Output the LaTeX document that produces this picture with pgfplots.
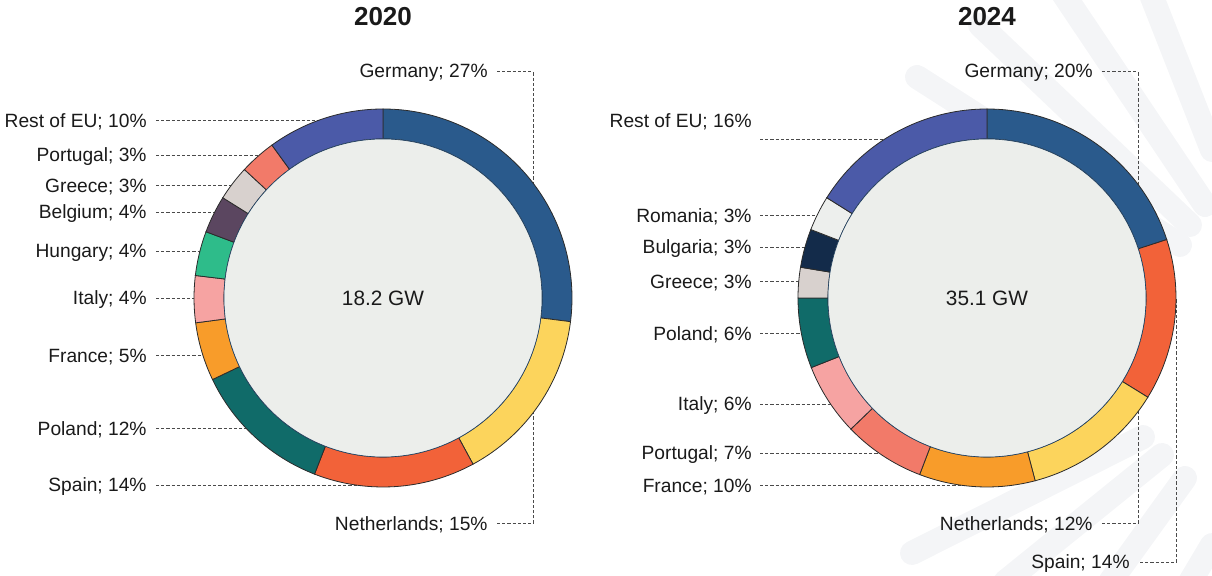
\documentclass[border=0pt]{standalone}
\usepackage{fontspec}
\setmainfont{Liberation Sans}
\usepackage{pgfplots}
\usepackage{pgfplotstable}
\pgfplotsset{compat=1.18}

\definecolor{cDE}{HTML}{2A5A8C}
\definecolor{cNL}{HTML}{FCD45C}
\definecolor{cES}{HTML}{F26239}
\definecolor{cPL}{HTML}{106B69}
\definecolor{cFR}{HTML}{F89C2A}
\definecolor{cIT}{HTML}{F6A3A2}
\definecolor{cHU}{HTML}{2EBC8A}
\definecolor{cBE}{HTML}{5B4660}
\definecolor{cGR}{HTML}{D8D1CE}
\definecolor{cPT}{HTML}{F27A69}
\definecolor{cRE}{HTML}{4B5AA8}
\definecolor{cBG}{HTML}{132B4A}
\definecolor{cRO}{HTML}{EDEFED}
\definecolor{inner}{HTML}{ECEEEB}
\definecolor{segline}{HTML}{2B2B2B}
\definecolor{lead}{HTML}{4A4A4A}
\definecolor{txt}{HTML}{1A1A1A}
\definecolor{wm}{HTML}{F4F5F7}

% shares (%) clockwise from the top, as read off the ring
\pgfplotstableread{
name pct col
Germany 27.0 cDE
Netherlands 15.1 cNL
Spain 13.8 cES
Poland 12.0 cPL
France 5.0 cFR
Italy 4.0 cIT
Hungary 3.8 cHU
Belgium 3.2 cBE
Greece 3.0 cGR
Portugal 3.1 cPT
Rest 10.0 cRE
}\shareA

\pgfplotstableread{
name pct col
Germany 20.0 cDE
Spain 13.8 cES
Netherlands 12.1 cNL
France 9.9 cFR
Portugal 7.0 cPT
Italy 6.2 cIT
Poland 6.0 cPL
Greece 2.6 cGR
Bulgaria 3.3 cBG
Romania 3.0 cRO
Rest 16.1 cRE
}\shareB

% ring of table #1 round the axis point (#2,#3); radii in pt (0.5pt per pixel)
\newcommand\donut[3]{%
  \pgfplotstablegetrowsof{#1}%
  \pgfmathtruncatemacro\nlast{\pgfplotsretval-1}%
  \def\tot{0}%
  \pgfplotsforeachungrouped \i in {0,...,\nlast}{%
    \pgfplotstablegetelem{\i}{pct}\of{#1}%
    \pgfmathsetmacro\tot{\tot+\pgfplotsretval}}%
  \pgfmathsetmacro\degper{360/\tot}%
  \def\cum{0}%
  \pgfplotsforeachungrouped \i in {0,...,\nlast}{%
    \pgfplotstablegetelem{\i}{pct}\of{#1}\let\segpct\pgfplotsretval
    \pgfplotstablegetelem{\i}{col}\of{#1}\let\segcol\pgfplotsretval
    \pgfmathsetmacro\angA{90-\cum*\degper}%
    \pgfmathsetmacro\angB{90-(\cum+\segpct)*\degper}%
    \pgfmathsetmacro\cum{\cum+\segpct}%
    \edef\cmd{\noexpand\filldraw[fill=\segcol, draw=segline, line width=0.4pt]
      ([shift={(\angA:94.5pt)}]axis cs:#2,#3)
      arc[start angle=\angA, end angle=\angB, radius=94.5pt]
      -- ([shift={(\angB:79.5pt)}]axis cs:#2,#3)
      arc[start angle=\angB, end angle=\angA, radius=79.5pt] -- cycle;}%
    \cmd}%
  \filldraw[fill=inner, draw=cDE!70!black, line width=0.3pt]
    (axis cs:#2,#3) circle[radius=79.5pt];%
}

\tikzset{
  lbl/.style={anchor=east, inner sep=0pt, text=txt, font=\fontsize{9.6}{11}\selectfont},
  ld/.style={draw=lead, line width=0.5pt, dash pattern=on 1.6pt off 1pt},
  wmark/.style={draw=wm, line width=12pt, line cap=round},
  ttl/.style={text=txt, font=\fontsize{13}{15}\selectfont\bfseries},
  tot/.style={text=txt, font=\fontsize{10.4}{12}\selectfont},
}

\begin{document}
\begin{tikzpicture}
\begin{axis}[
  name=ax,
  scale only axis,
  width=606pt, height=288pt,
  xmin=0, xmax=1212,
  ymin=0, ymax=576,
  y dir=reverse,
  hide axis,
  clip=false,
]
  % faint watermark stripes
  \draw[wmark] (917,77) -- (1180,245);
  \draw[wmark] (980,25) -- (1190,225);
  \draw[wmark] (1062,-8) -- (1205,205);
  \draw[wmark] (1150,-8) -- (1212,150);
  \draw[wmark] (912,553) -- (1143,437);
  \draw[wmark] (1005,582) -- (1162,455);
  \draw[wmark] (1110,582) -- (1185,478);
  \draw[wmark] (1190,582) -- (1212,545);

  % leader lines 2020
  \draw[ld] (156,121) -- (383,121);
  \draw[ld] (156,156) -- (383,156);
  \draw[ld] (156,186) -- (383,186);
  \draw[ld] (156,213) -- (383,213);
  \draw[ld] (156,252) -- (383,252);
  \draw[ld] (156,299) -- (383,299);
  \draw[ld] (156,356) -- (383,356);
  \draw[ld] (156,429) -- (383,429);
  \draw[ld] (156,486) -- (383,486);
  \draw[ld] (497,72) -- (533,72) -- (533,300);
  \draw[ld] (497,524) -- (533,524) -- (533,300);

  % leader lines 2024
  \draw[ld] (760,140) -- (987,140);
  \draw[ld] (760,216) -- (987,216);
  \draw[ld] (760,248) -- (987,248);
  \draw[ld] (760,282) -- (987,282);
  \draw[ld] (760,334) -- (987,334);
  \draw[ld] (760,405) -- (987,405);
  \draw[ld] (760,454) -- (987,454);
  \draw[ld] (760,486) -- (987,486);
  \draw[ld] (1102,72) -- (1138,72) -- (1138,300);
  \draw[ld] (1102,524) -- (1138,524) -- (1138,300);
  \draw[ld] (1140,563) -- (1176,563) -- (1176,298);

  \donut{\shareA}{383}{298}
  \donut{\shareB}{987}{298}

  % titles and totals
  \node[ttl] at (383,17) {2020};
  \node[ttl] at (987,17) {2024};
  \node[tot] at (383,298) {18.2 GW};
  \node[tot] at (987,298) {35.1 GW};

  % labels 2020
  \node[lbl] at (488,73) {Germany; 27\%};
  \node[lbl] at (488,525) {Netherlands; 15\%};
  \node[lbl] at (147,122) {Rest of EU; 10\%};
  \node[lbl] at (147,157) {Portugal; 3\%};
  \node[lbl] at (147,187) {Greece; 3\%};
  \node[lbl] at (147,214) {Belgium; 4\%};
  \node[lbl] at (147,253) {Hungary; 4\%};
  \node[lbl] at (147,300) {Italy; 4\%};
  \node[lbl] at (147,357) {France; 5\%};
  \node[lbl] at (147,430) {Poland; 12\%};
  \node[lbl] at (147,487) {Spain; 14\%};

  % labels 2024
  \node[lbl] at (1093,73) {Germany; 20\%};
  \node[lbl] at (1093,525) {Netherlands; 12\%};
  \node[lbl] at (1130,564) {Spain; 14\%};
  \node[lbl] at (752,122) {Rest of EU; 16\%};
  \node[lbl] at (752,217) {Romania; 3\%};
  \node[lbl] at (752,249) {Bulgaria; 3\%};
  \node[lbl] at (752,283) {Greece; 3\%};
  \node[lbl] at (752,335) {Poland; 6\%};
  \node[lbl] at (752,406) {Italy; 6\%};
  \node[lbl] at (752,455) {Portugal; 7\%};
  \node[lbl] at (752,487) {France; 10\%};
\end{axis}
\pgfresetboundingbox
\useasboundingbox (ax.south west) rectangle (ax.north east);
\end{tikzpicture}
\end{document}
